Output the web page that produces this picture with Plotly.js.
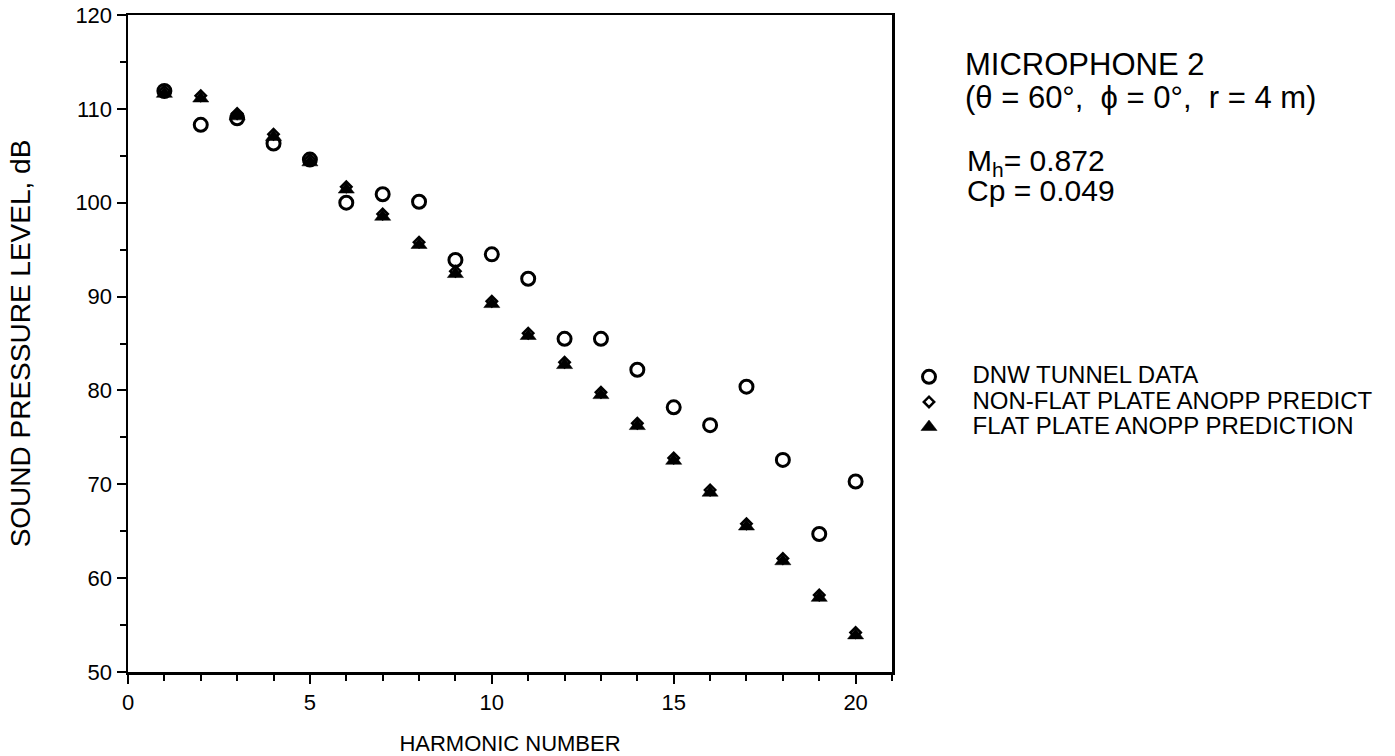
<!DOCTYPE html>
<html>
<head>
<meta charset="utf-8">
<script src="https://cdn.plot.ly/plotly-3.0.1.min.js"></script>
<style>html,body{margin:0;padding:0;background:#fff;}#chart{width:1395px;height:756px;}</style>
</head>
<body>
<div id="chart"></div>
<script>
const harmonics = [1,2,3,4,5,6,7,8,9,10,11,12,13,14,15,16,17,18,19,20];
const dnwTunnel = [111.9,108.3,109.0,106.3,104.6,100.0,100.9,100.1,93.9,94.5,91.9,85.5,85.5,82.2,78.2,76.3,80.4,72.6,64.7,70.3];
const nonFlatPlate = [111.9,111.4,109.5,107.3,104.6,101.7,98.8,95.8,92.7,89.5,86.1,83.0,79.8,76.5,72.8,69.4,65.8,62.1,58.2,54.2];
const flatPlate = [111.6,111.1,109.2,107.0,104.3,101.4,98.5,95.5,92.4,89.2,85.8,82.7,79.5,76.2,72.5,69.1,65.5,61.8,57.9,53.9];
const xTicks = [0,5,10,15,20];
const yTicks = [50,60,70,80,90,100,110,120];
const seriesNames = ['DNW TUNNEL DATA', 'NON-FLAT PLATE ANOPP PREDICT', 'FLAT PLATE ANOPP PREDICTION'];

const FONT = 'Liberation Sans, Arial, Helvetica, sans-serif';
const big = s => '<span style="font-size:24px">' + s + '</span>';

const traces = [
  {x: harmonics, y: dnwTunnel, name: big(seriesNames[0]), type: 'scatter', mode: 'markers',
   marker: {symbol: 'circle-open', size: 13, color: '#000', line: {width: 3, color: '#000'}}},
  {x: harmonics, y: nonFlatPlate, name: big(seriesNames[1]), type: 'scatter', mode: 'markers',
   marker: {symbol: 'diamond-open', size: 8, color: '#000', line: {width: 2.5, color: '#000'}}},
  {x: harmonics, y: flatPlate, name: big(seriesNames[2]), type: 'scatter', mode: 'markers',
   marker: {symbol: 'triangle-up', size: 14, color: '#000', line: {width: 0.5, color: '#000'}}}
];

const axisCommon = {
  showgrid: false, zeroline: false, showline: true, linecolor: '#000', linewidth: 2.5,
  mirror: true, ticks: 'outside', ticklen: 9, tickwidth: 2, tickcolor: '#000',
  tickfont: {family: FONT, size: 22, color: '#000'}
};

const layout = {
  width: 1395, height: 756,
  paper_bgcolor: '#fff', plot_bgcolor: '#fff',
  margin: {l: 128, r: 503, t: 15, b: 84, autoexpand: false},
  font: {family: FONT, color: '#000'},
  xaxis: Object.assign({}, axisCommon, {
    range: [0, 21], tickvals: xTicks, ticktext: xTicks.map(String),
    minor: {ticks: 'outside', ticklen: 6, tickwidth: 2, tickcolor: '#000', dtick: 1, tick0: 0},
    title: {text: 'HARMONIC NUMBER', font: {family: FONT, size: 22, color: '#000'}, standoff: 29}
  }),
  yaxis: Object.assign({}, axisCommon, {
    range: [50, 120], tickvals: yTicks, ticktext: yTicks.map(String),
    minor: {ticks: 'outside', ticklen: 6, tickwidth: 2, tickcolor: '#000', dtick: 5, tick0: 50},
    title: {text: 'SOUND PRESSURE LEVEL, dB', font: {family: FONT, size: 28, color: '#000'}, standoff: 37}
  }),
  showlegend: true,
  legend: {
    x: 0.9915, y: 0.476, xanchor: 'left', yanchor: 'top',
    font: {family: FONT, size: 17, color: '#000'},
    bgcolor: 'rgba(0,0,0,0)', borderwidth: 0, itemwidth: 77, tracegroupgap: 0
  },
  annotations: [
    {text: 'MICROPHONE 2', xref: 'paper', yref: 'paper', x: 1.093, y: 0.924, xanchor: 'left', yanchor: 'middle',
     showarrow: false, font: {family: FONT, size: 31, color: '#000'}},
    {text: '(θ = 60°,  ϕ = 0°,  r = 4 m)', xref: 'paper', yref: 'paper', x: 1.093, y: 0.874, xanchor: 'left', yanchor: 'middle',
     showarrow: false, font: {family: FONT, size: 31, color: '#000'}},
    {text: 'M<sub>h</sub>= 0.872', xref: 'paper', yref: 'paper', x: 1.095, y: 0.776, xanchor: 'left', yanchor: 'middle',
     showarrow: false, font: {family: FONT, size: 30, color: '#000'}},
    {text: 'Cp = 0.049', xref: 'paper', yref: 'paper', x: 1.095, y: 0.733, xanchor: 'left', yanchor: 'middle',
     showarrow: false, font: {family: FONT, size: 30, color: '#000'}}
  ]
};

Plotly.newPlot('chart', traces, layout, {displayModeBar: false, staticPlot: true});
</script>
</body>
</html>
